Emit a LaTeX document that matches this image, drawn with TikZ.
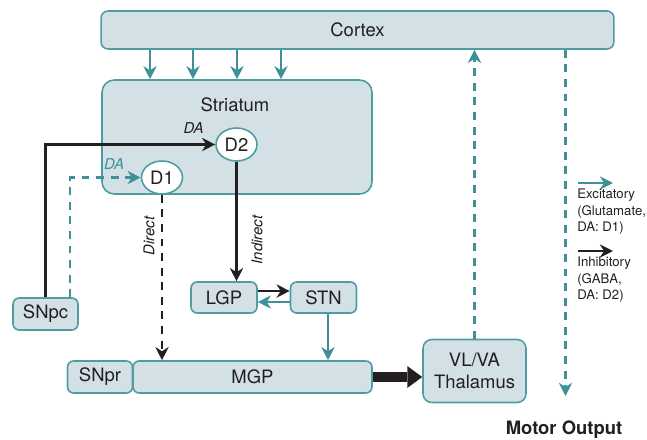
\documentclass[tikz,border=0pt]{standalone}
\usepackage{fontspec}
\setmainfont{TeX Gyre Heros}
\usetikzlibrary{arrows.meta,shapes.geometric}

\definecolor{boxfill}{HTML}{D3E1E6}
\definecolor{boxline}{HTML}{4F9CA3}
\definecolor{excitc}{HTML}{3E9198}
\definecolor{inkc}{HTML}{231F20}

\tikzset{
  region/.style={draw=boxline, fill=boxfill, line width=0.9pt, rounded corners=3.5pt,
    inner sep=0pt, text=inkc, font=\fontsize{10.5}{12.5}\selectfont},
  receptor/.style={ellipse, draw=boxline, fill=white, line width=0.9pt, inner sep=0pt,
    text=inkc, font=\fontsize{10.5}{12.5}\selectfont},
  excit/.style={excitc, line width=1.6pt, -{Stealth[length=7.5pt,width=7.5pt]}},
  inhib/.style={inkc, line width=1.6pt, -{Stealth[length=7.5pt,width=7.5pt]}},
  dashline/.style={dash pattern=on 4.5pt off 3.8pt},
  pathlabel/.style={text=inkc, font=\fontsize{8.5}{10}\selectfont\itshape},
  legendtext/.style={text=inkc, align=left, inner sep=0pt, anchor=north west,
    font=\fontsize{7.5}{9.2}\selectfont}
}

\begin{document}
\begin{tikzpicture}[x=0.02cm, y=-0.02cm]
        \useasboundingbox (0,0) rectangle (647,440);

        % Regions
        \node[region, rounded corners=4pt, minimum width=10.26cm, minimum height=0.76cm] (cortex) at (357.5,30) {Cortex};
        \node[region, rounded corners=7pt, minimum width=5.4cm, minimum height=2.28cm] (striatum) at (237,137) {};
        \node[text=inkc, font=\fontsize{10.5}{12.5}\selectfont] (striatumname) at (235,105) {Striatum};
        \node[region, minimum width=1.3cm, minimum height=0.64cm] (snpc) at (45.5,314) {SNpc};
        \node[region, minimum width=1.32cm, minimum height=0.62cm] (lgp) at (224,297.5) {LGP};
        \node[region, minimum width=1.32cm, minimum height=0.62cm] (stn) at (323.5,297.5) {STN};
        \node[region, minimum width=1.3cm, minimum height=0.64cm] (snpr) at (100,377) {SNpr};
        \node[region, minimum width=4.78cm, minimum height=0.64cm] (mgp) at (252.5,377) {MGP};
        \node[region, rounded corners=5pt, minimum width=2.06cm, minimum height=1.26cm, align=center] (thal) at (474.5,371) {VL/VA\\Thalamus};

        % Receptors
        \node[receptor, minimum width=0.82cm, minimum height=0.66cm] (d2) at (236.5,144.5) {D2};
        \node[receptor, minimum width=0.82cm, minimum height=0.66cm] (d1) at (162,177.5) {D1};

        % Cortex to striatum
        \foreach \x in {150,193,237,281}
          \draw[excit] (\x,0 |- cortex.south) -- (\x,0 |- striatum.north);

        % Dopamine inputs
        \draw[inhib] (snpc.north) |- (d2.west);
        \draw[excit, dashline] (70,0 |- snpc.north) |- (d1.west);
        \node[pathlabel] (da2) at (193.5,128) {DA};
        \node[pathlabel, text=excitc] (da1) at (114,164) {DA};

        % Direct and indirect pathways
        \draw[inhib, dashline] (d1.south) -- (d1.south |- mgp.north);
        \node[pathlabel, rotate=90] (direct) at (149,236) {Direct};
        \draw[inhib] (d2.south) -- (d2.south |- lgp.north);
        \node[pathlabel, rotate=90] (indirect) at (257,240) {Indirect};
        \draw[inhib] (lgp.east |- 0,291) -- (stn.west |- 0,291);
        \draw[excit] (stn.west |- 0,302) -- (lgp.east |- 0,302);
        \draw[excit] (328,0 |- stn.south) -- (328,0 |- mgp.north);

        % Output
        \draw[inkc, line width=6pt, -{Triangle[length=8.5pt,width=12.5pt,line width=0pt]}] (mgp.east) -- (mgp.east -| thal.west);
        \draw[excit, dashline] (thal.north) -- (thal.north |- cortex.south);
        \coordinate (motorend) at (565.5,396);
        \draw[excit, dashline] (motorend |- cortex.south) -- (motorend);
        \node[text=inkc, font=\fontsize{10.5}{12.5}\selectfont\bfseries] (motor) at (564,430) {Motor Output};

        % Legend
        \coordinate (exa) at (578,183);
        \coordinate (exb) at (613,183);
        \draw[excit] (exa) -- (exb);
        \node[legendtext] (exlabel) at (577,189) {Excitatory\\(Glutamate,\\DA: D1)};
        \coordinate (ina) at (578,251);
        \coordinate (inb) at (613,251);
        \draw[inhib] (ina) -- (inb);
        \node[legendtext] (inlabel) at (577,257) {Inhibitory\\(GABA,\\DA: D2)};
    \end{tikzpicture}
\end{document}
